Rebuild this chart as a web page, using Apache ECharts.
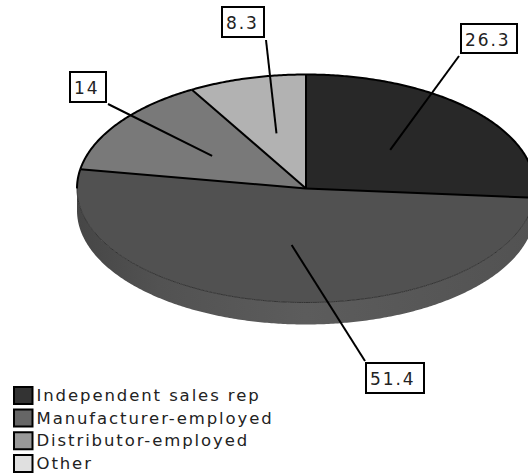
<!DOCTYPE html>
<html><head><meta charset="utf-8">
<style>
html,body{margin:0;padding:0;background:#fff}
#c{width:528px;height:475px}
#c text{letter-spacing:1.9px}
</style>
<script src="https://cdn.jsdelivr.net/npm/echarts@6/dist/echarts.min.js"></script>
</head><body><div id="c"></div>
<script>
const categories = ["Independent sales rep","Manufacturer-employed","Distributor-employed","Other"];
const values = [26.3,51.4,14,8.3];
const valueLabels = ["26.3","51.4","14","8.3"];
const sliceColors = ["#282828","#515151","#797979","#b2b2b2"];
const legendColors = ["#333333","#666666","#999999","#e0e0e0"];

// layout
const CX=306, CY=188.5, RX=229, RY=114, DEPTH=22;
const boxes=[ // x,y,w,h, leader-line outer end
 {x:461,y:24,w:56,h:29,lx:459,ly:56},
 {x:366,y:363,w:58,h:30,lx:365,ly:361},
 {x:70,y:72,w:36,h:30,lx:108,ly:104},
 {x:222,y:7,w:42,h:30,lx:266,ly:40}
];
const total=values.reduce((a,b)=>a+b,0);
const starts=[];let acc=0;values.forEach(v=>{starts.push(acc/total*Math.PI*2);acc+=v;});
const pt=(t,r,dy)=>[CX+RX*r*Math.sin(t),CY-RY*r*Math.cos(t)+(dy||0)];
function arc(a,b,dy){const n=Math.max(2,Math.ceil((b-a)/0.01));const out=[];for(let i=0;i<=n;i++)out.push(pt(a+(b-a)*i/n,1,dy));return out;}
const H=Math.PI/2, H3=Math.PI*1.5;

function sliceItem(i){
  return function(params,api){
    const a=starts[i], b=a+api.value(0)/total*Math.PI*2;
    const ch=[];
    const sa=Math.max(a,H), sb=Math.min(b,H3);
    if(sb>sa){
      const top=arc(sa,sb,0), low=arc(sa,sb,DEPTH).reverse();
      ch.push({type:'polygon',shape:{points:top.concat(low)},
        style:{fill:new echarts.graphic.LinearGradient(0,0,1,0,[
          {offset:0,color:'#464646'},{offset:.18,color:'#525252'},{offset:.5,color:'#5c5c5c'},{offset:1,color:'#525252'}])}});
    }
    const arcPts=arc(a,b,0);
    ch.push({type:'polygon',shape:{points:[[CX,CY]].concat(arcPts)},style:{fill:sliceColors[i]}});
    if(sb>sa) ch.push({type:'polyline',shape:{points:arc(sa,sb,0)},style:{stroke:'#333',lineWidth:1,fill:'none'}});
    if(a<H) ch.push({type:'polyline',shape:{points:arc(a,Math.min(b,H),0)},style:{stroke:'#000',lineWidth:2,fill:'none'}});
    if(b>H3) ch.push({type:'polyline',shape:{points:arc(Math.max(a,H3),b,0)},style:{stroke:'#000',lineWidth:2,fill:'none'}});
    return {type:'group',children:ch};
  };
}
function spokes(){
  return {type:'group',children:starts.map(a=>({type:'line',shape:{x1:CX,y1:CY,x2:pt(a,1)[0],y2:pt(a,1)[1]},style:{stroke:'#000',lineWidth:2}}))};
}
function labelItem(params,api){
  const i=params.dataIndex, b=boxes[i];
  const mid=starts[i]+api.value(0)/total*Math.PI;
  const p=pt(mid,0.5);
  return {type:'group',children:[
    {type:'line',shape:{x1:b.lx,y1:b.ly,x2:p[0],y2:p[1]},style:{stroke:'#000',lineWidth:2}},
    {type:'rect',shape:{x:b.x,y:b.y,width:b.w,height:b.h},style:{fill:'#fff',stroke:'#000',lineWidth:2}},
    {type:'text',x:b.x+4,y:b.y+b.h/2+1,style:{text:valueLabels[i],font:'17px "DejaVu Sans"',fill:'#222',textAlign:'left',textVerticalAlign:'middle'}}
  ]};
}
const series=categories.map((name,i)=>({
  type:'custom',name,coordinateSystem:'none',silent:true,animation:false,
  itemStyle:{color:legendColors[i]},
  data:[[values[i]]],renderItem:sliceItem(i),z:2
}));
series.push({type:'custom',name:'spokes',coordinateSystem:'none',silent:true,animation:false,data:[[0]],renderItem:spokes,z:3});
series.push({type:'custom',name:'labels',coordinateSystem:'none',silent:true,animation:false,data:values.map(v=>[v]),renderItem:labelItem,z:4});

const chart=echarts.init(document.getElementById('c'),null,{renderer:'svg'});
chart.setOption({
  animation:false,
  backgroundColor:'#fff',
  legend:{
    orient:'vertical',left:13,bottom:2,itemWidth:18.5,itemHeight:17,itemGap:3.7,padding:0,selectedMode:false,
    textStyle:{fontFamily:'"DejaVu Sans"',fontSize:16.5,color:'#222',lineHeight:17,padding:[0,0,0,-1]},
    data:categories.map((name,i)=>({name,icon:'rect',itemStyle:{color:legendColors[i],borderColor:'#000',borderWidth:2}}))
  },
  series
});
</script></body></html>
